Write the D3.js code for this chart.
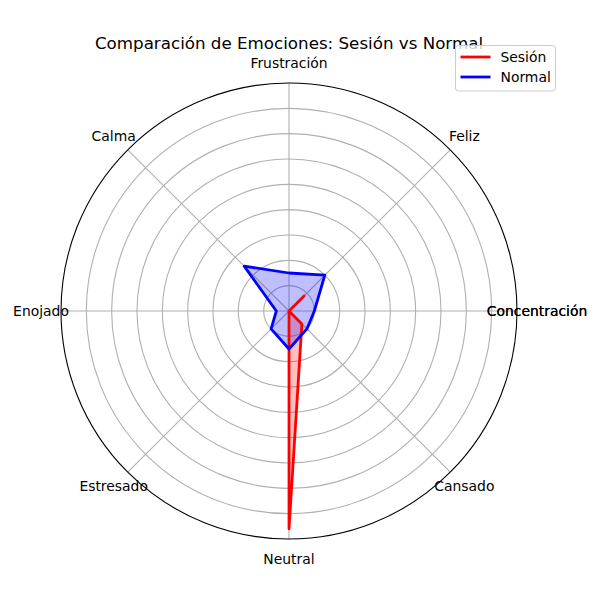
<!DOCTYPE html>
<html>
<head>
<meta charset="utf-8">
<script src="https://cdn.jsdelivr.net/npm/d3@7"></script>
<style>
  html, body { margin: 0; padding: 0; background: #fff; }
  svg { display: block; font-family: "DejaVu Sans", sans-serif; }
</style>
</head>
<body>
<svg id="chart" width="600" height="600"></svg>
<script>
const categories = ["Concentración", "Feliz", "Frustración", "Calma", "Enojado", "Estresado", "Neutral", "Cansado"];
const sesion = [0, 8.4, 0, 0, 0, 0, 86, 7.2];
const normal = [10, 20, 15, 25, 5, 10, 15, 10];
const radialTicks = [10, 20, 30, 40, 50, 60, 70, 80];
const rMax = 90;
const seriesNames = ["Sesión", "Normal"];
const seriesColors = ["#ff0000", "#0000ff"];
const title = "Comparación de Emociones: Sesión vs Normal";

const svg = d3.select("#chart");
const cx = 289, cy = 311, R = 228;

const r = d3.scaleLinear().domain([0, rMax]).range([0, R]);
// theta measured counter-clockwise from 3 o'clock (matplotlib convention)
const theta = d3.scaleLinear().domain([0, categories.length]).range([0, 2 * Math.PI]);
// d3 radial angle: clockwise from 12 o'clock
const toD3 = t => Math.PI / 2 - t;

const g = svg.append("g").attr("transform", `translate(${cx},${cy})`);

// grid circles
g.selectAll("circle.grid").data(radialTicks).join("circle")
  .attr("class", "grid")
  .attr("r", d => r(d))
  .attr("fill", "none")
  .attr("stroke", "#b0b0b0")
  .attr("stroke-width", 1.1);

// spokes
g.selectAll("line.spoke").data(categories).join("line")
  .attr("class", "spoke")
  .attr("x1", 0).attr("y1", 0)
  .attr("x2", (d, i) => r(rMax) * Math.cos(theta(i)))
  .attr("y2", (d, i) => -r(rMax) * Math.sin(theta(i)))
  .attr("stroke", "#b0b0b0")
  .attr("stroke-width", 1.1);

const radial = d3.lineRadial()
  .angle((d, i) => toD3(theta(i)))
  .radius(d => r(d))
  .curve(d3.curveLinearClosed);

const data = [sesion, normal];

// fills (below lines)
g.selectAll("path.fill").data(data).join("path")
  .attr("class", "fill")
  .attr("d", d => radial(d))
  .attr("fill", (d, i) => seriesColors[i])
  .attr("fill-opacity", 0.25)
  .attr("stroke", "none");

// lines
g.selectAll("path.line").data(data).join("path")
  .attr("class", "line")
  .attr("d", d => radial(d))
  .attr("fill", "none")
  .attr("stroke", (d, i) => seriesColors[i])
  .attr("stroke-width", 2.78)
  .attr("stroke-linejoin", "round");

// outer spine
g.append("circle")
  .attr("r", r(rMax))
  .attr("fill", "none")
  .attr("stroke", "#000")
  .attr("stroke-width", 1.1);

// category labels (first label repeated for the closing angle, as in the original)
const labelR = R + 20;
const labelData = categories.map((c, i) => ({ c, i })).concat([{ c: categories[0], i: categories.length }]);
g.selectAll("text.cat").data(labelData).join("text")
  .attr("class", "cat")
  .attr("x", d => labelR * Math.cos(theta(d.i)))
  .attr("y", d => -labelR * Math.sin(theta(d.i)))
  .attr("text-anchor", "middle")
  .attr("dominant-baseline", "central")
  .attr("font-size", 13.9)
  .attr("fill", "#000")
  .text(d => d.c);

// title
svg.append("text")
  .attr("x", cx).attr("y", 49)
  .attr("text-anchor", "middle")
  .attr("font-size", 16.7)
  .attr("fill", "#000")
  .text(title);

// legend
const lg = svg.append("g").attr("transform", "translate(455.5,45.5)");
lg.append("rect")
  .attr("width", 100).attr("height", 45.5)
  .attr("rx", 3).attr("ry", 3)
  .attr("fill", "#fff").attr("fill-opacity", 0.8)
  .attr("stroke", "#cccccc").attr("stroke-width", 1);
seriesNames.forEach((name, i) => {
  const y = 11.5 + i * 20;
  lg.append("line")
    .attr("x1", 5).attr("x2", 35).attr("y1", y).attr("y2", y)
    .attr("stroke", seriesColors[i]).attr("stroke-width", 2.78);
  lg.append("text")
    .attr("x", 45).attr("y", y)
    .attr("dominant-baseline", "central")
    .attr("font-size", 13.9)
    .attr("fill", "#000")
    .text(name);
});
</script>
</body>
</html>
